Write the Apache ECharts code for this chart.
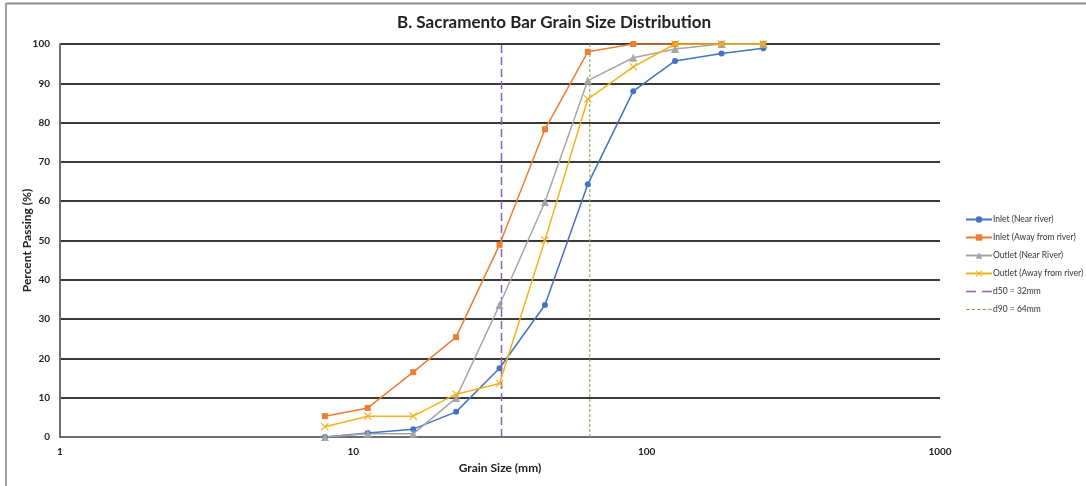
<!DOCTYPE html>
<html><head><meta charset="utf-8">
<script src="https://cdn.jsdelivr.net/npm/echarts@6/dist/echarts.min.js"></script>
<style>html,body{margin:0;padding:0;background:#fff}#c{width:1086px;height:486px}</style>
</head><body><div id="c"></div>
<script>
var sizes = [8, 11.2, 16, 22.4, 31.5, 45, 63, 90, 125, 180, 250];
var inletNear = [0, 1.0, 2.0, 6.4, 17.5, 33.6, 64.3, 88.0, 95.7, 97.6, 98.9];
var inletAway = [5.3, 7.4, 16.5, 25.4, 48.9, 78.3, 98.0, 100, 100, 100, 100];
var outletNear = [0, 0.8, 0.8, 9.9, 33.6, 59.8, 90.7, 96.5, 98.7, 100, 100];
var outletAway = [2.6, 5.3, 5.3, 10.9, 13.6, 50.1, 86.0, 94.2, 100, 100, 100];
var d50 = 32, d90 = 64;
var yTicks = [0,10,20,30,40,50,60,70,80,90,100];
var xTicks = [1, 10, 100, 1000];

function pairs(v){ return sizes.map(function(s,i){ return [s, v[i]]; }); }
var xPath = 'path://M0,1 L1,0 L5,4 L9,0 L10,1 L6,5 L10,9 L9,10 L5,6 L1,10 L0,9 L4,5 Z';
var dashIcon = 'path://M0,3.3h10v1.4h-10z M16,3.3h10v1.4h-10z M0,0h0.01v0.01h-0.01z M0,8h0.01v-0.01h-0.01z';
var dotIcon = 'path://M0,3.4h3.5v1.2h-3.5z M5.5,3.4h3.5v1.2h-3.5z M11,3.4h3.5v1.2h-3.5z M16.5,3.4h3.5v1.2h-3.5z M22,3.4h3.5v1.2h-3.5z M0,0h0.01v0.01h-0.01z M0,8h0.01v-0.01h-0.01z';
var font = 'Lato, "Open Sans", sans-serif';

var chart = echarts.init(document.getElementById('c'));
chart.setOption({
  animation: false,
  backgroundColor: '#fff',
  title: { text: 'B. Sacramento Bar Grain Size Distribution', left: 549, textAlign: 'center', top: 9,
    textStyle: { fontFamily: font, fontSize: 17, fontWeight: 'bold', color: '#222' } },
  graphic: [
    { type: 'line', shape: { x1: 6, y1: 3.5, x2: 1086, y2: 3.5 }, style: { stroke: '#8c8c8c', lineWidth: 2 } },
    { type: 'line', shape: { x1: 6, y1: 3, x2: 6, y2: 486 }, style: { stroke: '#a0a0a0', lineWidth: 2 } }
  ],
  grid: { left: 60, right: 146, top: 44, bottom: 49 },
  legend: {
    orient: 'vertical', left: 960, top: 210, itemWidth: 26, itemHeight: 8, itemGap: 9,
    textStyle: { fontFamily: font, fontSize: 8.5, color: '#333', padding: [0, 0, 0, -4] },
    data: [
      { name: 'Inlet (Near river)' },
      { name: 'Inlet (Away from river)' },
      { name: 'Outlet (Near River)' },
      { name: 'Outlet (Away from river)' },
      { name: 'd50 = 32mm', icon: dashIcon },
      { name: 'd90 = 64mm', icon: dotIcon }
    ]
  },
  xAxis: {
    type: 'log', logBase: 10, min: 1, max: 1000,
    name: 'Grain Size (mm)', nameLocation: 'middle', nameGap: 24,
    nameTextStyle: { fontFamily: font, fontSize: 12, fontWeight: 'bold', color: '#222' },
    axisLine: { lineStyle: { color: '#6e6e6e', width: 2 } },
    axisTick: { show: false },
    splitLine: { show: false },
    axisLabel: { fontFamily: font, fontSize: 10, fontWeight: 'bold', color: '#222', margin: 10,
      formatter: function(v){ var r = Math.round(v); return xTicks.indexOf(r) >= 0 ? String(r) : ''; } }
  },
  yAxis: {
    type: 'value', min: 0, max: 100, interval: 10,
    name: 'Percent Passing (%)', nameLocation: 'middle', nameGap: 27, nameMoveOverlap: false,
    nameTextStyle: { fontFamily: font, fontSize: 12, fontWeight: 'bold', color: '#222' },
    axisLine: { show: true, lineStyle: { color: '#6e6e6e', width: 2 } },
    axisTick: { show: false },
    splitLine: { lineStyle: { color: '#3a3a3a', width: 2 } },
    axisLabel: { fontFamily: font, fontSize: 10, fontWeight: 'bold', color: '#222', margin: 10,
      formatter: function(v){ return yTicks.indexOf(v) >= 0 ? String(v) : ''; } }
  },
  series: [
    { name: 'Inlet (Near river)', type: 'line', data: pairs(inletNear), color: '#4472C4',
      symbol: 'circle', symbolSize: 6, lineStyle: { width: 1.5 }, z: 5 },
    { name: 'Inlet (Away from river)', type: 'line', data: pairs(inletAway), color: '#ED7D31',
      symbol: 'rect', symbolSize: 6, lineStyle: { width: 1.5 }, z: 5 },
    { name: 'Outlet (Near River)', type: 'line', data: pairs(outletNear), color: '#A5A5A5',
      symbol: 'triangle', symbolSize: 8, lineStyle: { width: 1.5 }, z: 5 },
    { name: 'Outlet (Away from river)', type: 'line', data: pairs(outletAway), color: '#F2B21B',
      symbol: xPath, symbolSize: 8, lineStyle: { width: 1.5 }, z: 6 },
    { name: 'd50 = 32mm', type: 'line', data: [[d50, 0], [d50, 100]], color: '#8E5BC4',
      symbol: 'none', lineStyle: { width: 1.5, type: [8, 4] }, z: 4 },
    { name: 'd90 = 64mm', type: 'line', data: [[d90, 0], [d90, 100]], color: '#70AD47',
      symbol: 'none', lineStyle: { width: 1, type: [3, 2] }, z: 4 }
  ]
});
</script></body></html>
